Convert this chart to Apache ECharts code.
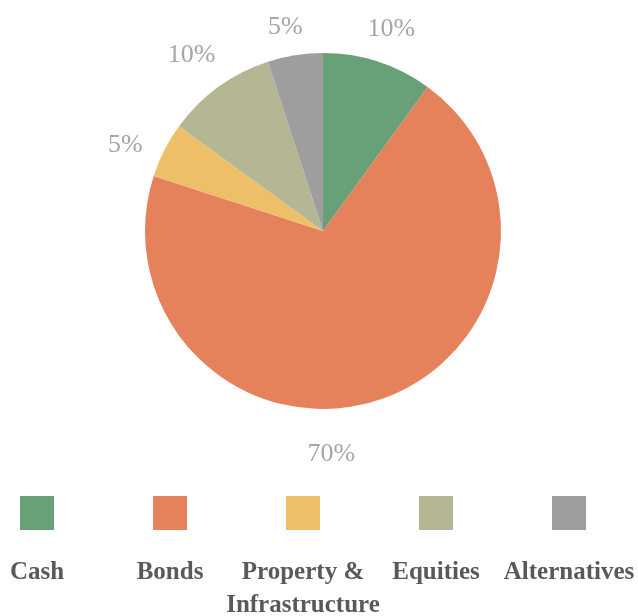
<!DOCTYPE html>
<html><head><meta charset="utf-8">
<script src="https://cdn.jsdelivr.net/npm/echarts@6/dist/echarts.min.js"></script>
<style>html,body{margin:0;padding:0;background:#fff}#c{width:638px;height:616px}</style>
</head><body><div id="c"></div>
<script>
const categories = ['Cash', 'Bonds', 'Property & Infrastructure', 'Equities', 'Alternatives'];
const legendLabels = ['Cash', 'Bonds', 'Property &\nInfrastructure', 'Equities', 'Alternatives'];
const values = [10, 70, 5, 10, 5];
const colors = ['#68a078', '#e5825c', '#ecbf68', '#b5b693', '#9e9e9e'];
// small nudges of the percentage labels (Excel-like best-fit placement)
const labelNudges = [[2, 3], [-58, 19], [-6, 12], [-5, -2], [-4, 9]];

const serif = '"Liberation Serif", "DejaVu Serif", serif';
const data = categories.map((n, i) => ({ name: n, value: values[i], itemStyle: { color: colors[i] } }));
const labelData = categories.map((n, i) => ({ name: n, value: values[i] }));

const chart = echarts.init(document.getElementById('c'), null, { renderer: 'canvas' });
const colX0 = 37, colStep = 133;
chart.setOption({
  animation: false,
  legend: categories.map((n, i) => ({
    data: [{ name: n, itemStyle: { color: colors[i] } }],
    left: colX0 + i * colStep - 17,
    top: 496,
    padding: 0,
    icon: 'rect',
    itemWidth: 34,
    itemHeight: 34,
    selectedMode: false,
    formatter: () => '',
    textStyle: { fontSize: 1 }
  })),
  graphic: legendLabels.map((t, i) => ({
    type: 'text',
    x: colX0 + i * colStep,
    y: 556,
    style: {
      text: t,
      textAlign: 'center',
      textVerticalAlign: 'top',
      font: 'bold 25px ' + serif,
      fill: '#595959',
      lineHeight: 33
    }
  })),
  series: [
    {
      type: 'pie',
      center: [323, 231],
      radius: 178,
      startAngle: 90,
      clockwise: true,
      label: { show: false },
      labelLine: { show: false },
      emphasis: { disabled: true },
      data: data
    },
    {
      type: 'pie',
      center: [323, 231],
      radius: [206, 218],
      startAngle: 90,
      clockwise: true,
      silent: true,
      itemStyle: { color: 'rgba(0,0,0,0)' },
      label: {
        show: true,
        position: 'inside',
        formatter: p => p.value + '%',
        fontFamily: serif,
        fontSize: 26,
        color: '#a6a6a6'
      },
      labelLine: { show: false },
      emphasis: { disabled: true },
      labelLayout: p => ({ dx: labelNudges[p.dataIndex][0], dy: labelNudges[p.dataIndex][1] }),
      data: labelData
    }
  ]
});
</script></body></html>
